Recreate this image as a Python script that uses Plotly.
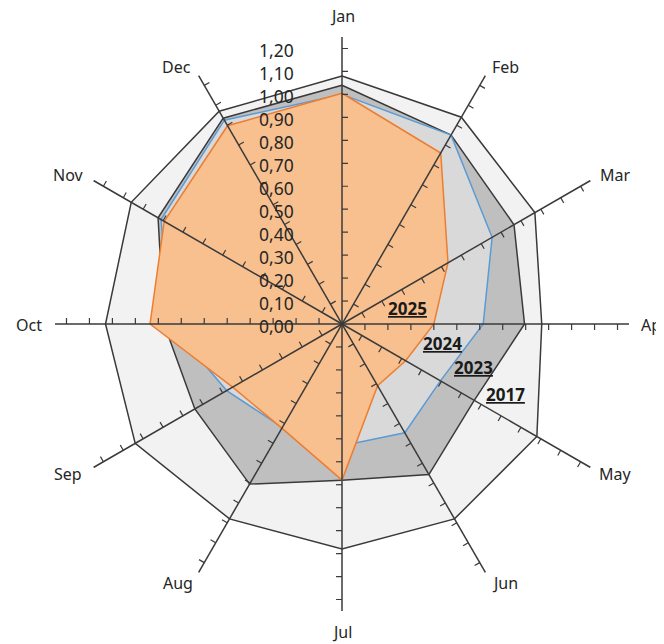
import numpy as np
import plotly.graph_objects as go

# =====================
# data
# =====================
months = ["Jan", "Feb", "Mar", "Apr", "May", "Jun",
          "Jul", "Aug", "Sep", "Oct", "Nov", "Dec"]

y2017 = [1.08, 1.04, 0.97, 0.87, 0.98, 0.98, 0.98, 0.98, 1.04, 1.03, 1.06, 1.07]
y2023 = [1.04, 0.95, 0.865, 0.795, 0.665, 0.757, 0.68, 0.805, 0.74, 0.775, 0.925, 1.035]
y2024 = [1.00, 0.95, 0.755, 0.615, 0.495, 0.547, 0.53, 0.52, 0.58, 0.75, 0.91, 1.025]
y2025 = [1.005, 0.86, 0.533, 0.40, 0.32, 0.31, 0.68, 0.524, 0.55, 0.836, 0.894, 0.997]

tick_values = [round(0.1 * i, 2) for i in range(0, 13)]
r_max = 1.25

FONT = "Noto Sans"
AXIS_COLOR = "#3a3a3a"
W, H = 664, 644
OFF = 8  # page body margin

angles = [i * 30 for i in range(len(months))]


def closed(vals):
    return list(vals) + [vals[0]]


fig = go.Figure()

series = [
    ("2017", y2017, "#F2F2F2", AXIS_COLOR),
    ("2023", y2023, "#BFBFBF", AXIS_COLOR),
    ("2024", y2024, "#D9D9D9", "#5B9BD5"),
    ("2025", y2025, "#F8C08F", "#ED7D31"),
]

for name, vals, fill, line in series:
    fig.add_trace(go.Scatterpolar(
        r=closed(vals),
        theta=closed(angles),
        mode="lines",
        fill="toself",
        fillcolor=fill,
        line=dict(color=line, width=1.5),
        name=name,
        showlegend=False
    ))

# spokes with one-sided tick marks (clockwise side)
d = 0.026
sp_r, sp_t = [], []
tk_r, tk_t = [], []
for a in angles:
    sp_r += [0, r_max, None]
    sp_t += [a, a, None]
    for v in tick_values[1:]:
        tk_r += [v, float(np.hypot(v, d)), None]
        tk_t += [a, a + float(np.degrees(np.arctan(d / v))), None]

fig.add_trace(go.Scatterpolar(
    r=sp_r, theta=sp_t, mode="lines",
    line=dict(color=AXIS_COLOR, width=1.5),
    showlegend=False, hoverinfo="skip"
))
fig.add_trace(go.Scatterpolar(
    r=tk_r, theta=tk_t, mode="lines",
    line=dict(color=AXIS_COLOR, width=1.2),
    showlegend=False, hoverinfo="skip"
))

cx, cy, rad = 342 - OFF, 324 - OFF, 287

# month labels, placed around the spokes' outer ends (page pixels)
month_pos = [(342, 16), (505, 67), (615, 175), (654, 325), (615, 474), (505, 583),
             (342, 632), (178, 583), (68, 474), (29, 325), (68, 175), (176, 67)]
for m, (px_, py_) in zip(months, month_pos):
    fig.add_annotation(
        text=m,
        x=(px_ - OFF) / W, y=1 - (py_ - OFF) / H,
        xref="paper", yref="paper",
        xanchor="center", yanchor="middle",
        showarrow=False,
        font=dict(family=FONT, size=16, color="#262626")
    )

# series labels
labels = [("2025", 407, 308), ("2024", 442, 343), ("2023", 473, 367), ("2017", 505, 394)]
for txt, px_, py_ in labels:
    fig.add_annotation(
        text=f"<b><u>{txt}</u></b>",
        x=(px_ - OFF) / W, y=1 - (py_ - OFF) / H,
        xref="paper", yref="paper",
        xanchor="center", yanchor="middle",
        showarrow=False,
        font=dict(family=FONT, size=17, color="#1a1a1a")
    )

fig.update_layout(
    width=W, height=H,
    margin=dict(l=0, r=0, t=0, b=0),
    paper_bgcolor="white",
    separators=",.",
    font=dict(family=FONT, size=16, color="#262626"),
    polar=dict(
        domain=dict(x=[(cx - rad) / W, (cx + rad) / W],
                    y=[1 - (cy + rad) / H, 1 - (cy - rad) / H]),
        bgcolor="rgba(0,0,0,0)",
        angularaxis=dict(
            direction="clockwise",
            rotation=90,
            tickmode="array",
            tickvals=angles,
            showticklabels=False,
            showgrid=False,
            showline=False,
            ticks=""
        ),
        radialaxis=dict(
            range=[0, r_max],
            angle=90,
            side="counterclockwise",
            tickmode="array",
            tickvals=tick_values,
            tickformat=".2f",
            showgrid=False,
            showline=False,
            ticks="outside",
            ticklen=32,
            tickcolor="rgba(0,0,0,0)",
            layer="above traces",
            tickfont=dict(family=FONT, size=17.5, color="#262626")
        )
    )
)

fig.write_html("out.html")
